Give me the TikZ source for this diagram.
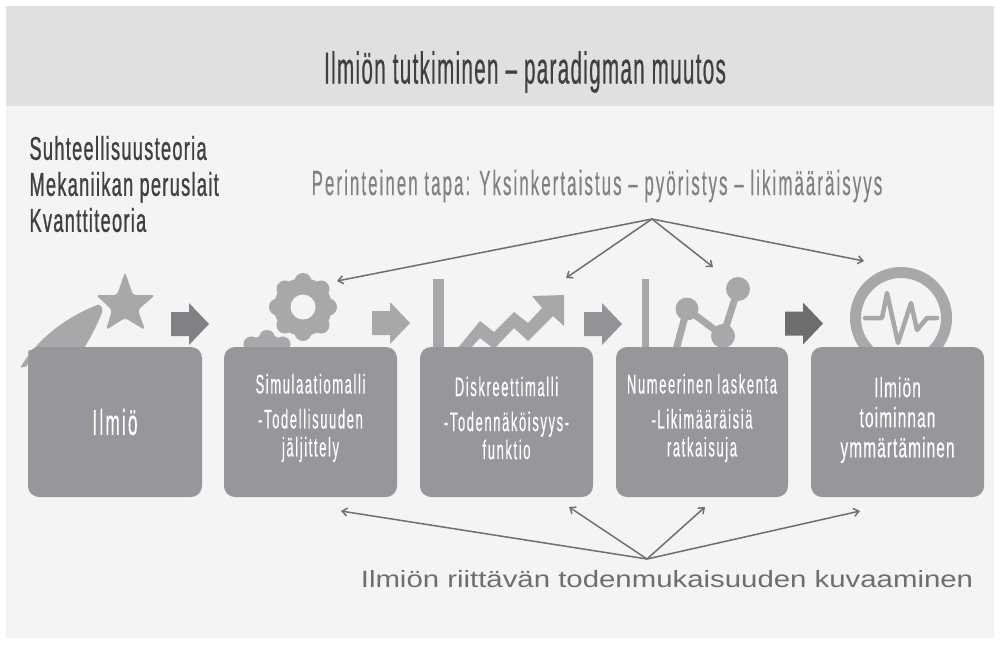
\documentclass[tikz,border=0pt]{standalone}
\usepackage{fontspec}
\setmainfont{Liberation Sans}
\newfontfamily\titlef[FakeStretch=.46,LetterSpace=3,FakeBold=.4]{Liberation Sans}
\newfontfamily\lawsf[FakeStretch=.55,LetterSpace=4,FakeBold=.8]{Liberation Sans}
\newfontfamily\condf[FakeStretch=.48,LetterSpace=6,FakeBold=.3]{Liberation Sans}
\newfontfamily\bfivef[FakeStretch=.55,LetterSpace=4,FakeBold=.3]{Liberation Sans}
\newfontfamily\widef[FakeStretch=1.25]{Liberation Sans}
\usetikzlibrary{arrows.meta}
\definecolor{panel}{gray}{0.955}
\definecolor{band}{HTML}{DFE0E2}
\definecolor{boxc}{HTML}{96979A}
\definecolor{icon}{HTML}{A7A8AA}
\definecolor{darka}{HTML}{808184}
\definecolor{lina}{HTML}{6D6E71}
\tikzset{
 x=1pt,y=-1pt,
 bx/.style={fill=boxc,rounded corners=11pt,minimum height=150pt,inner sep=0pt,text=white,align=center,font=\condf\fontsize{27}{28}\selectfont},
 txt/.style={text=white,align=center,font=\condf\fontsize{27}{28}\selectfont},
 arr/.style={draw=lina,line width=1.5pt,-{Straight Barb[length=5pt,width=8pt]}},
 ic/.style={fill=icon,draw=none},
}
\newcommand{\blockA}[3]{\fill[#3] (#1,#2-12)--(#1+18,#2-12)--(#1+18,#2-21)--(#1+38,#2)--(#1+18,#2+21)--(#1+18,#2+12)--(#1,#2+12)--cycle;}
\begin{document}
\begin{tikzpicture}
\useasboundingbox (0,0) rectangle (1000,646);
\fill[white] (0,0) rectangle (1000,646);
\fill[panel] (6,6) rectangle (994,638);
\fill[band] (6,6) rectangle (994,106);
\node[font=\titlef\fontsize{44.7}{46}\selectfont,text=black!75] (title) at (525,72) {Ilmiön tutkiminen – paradigman muutos};
\node[anchor=west,align=left,font=\lawsf\fontsize{33}{36}\selectfont,text=black!75] (laws) at (26,184) {Suhteellisuusteoria\\Mekaniikan peruslait\\Kvanttiteoria};
\node[font=\condf\fontsize{35}{36}\selectfont,text=darka] (trad) at (597,186) {Perinteinen tapa: Yksinkertaistus – pyöristys – likimääräisyys};
\node[font=\widef\fontsize{23.5}{24}\selectfont,text=lina] (desc) at (667,579) {Ilmiön riittävän todenmukaisuuden kuvaaminen};
% star and swoosh
\fill[ic,rounded corners=3pt] (125,272)--(133,295)--(155,295)--(138,310)--(145,330)--(125,318)--(106,330)--(112,310)--(96,295)--(117,295)--cycle;
\fill[ic,rounded corners=2pt] (20,368) .. controls (38,338) and (68,316) .. (100,304) -- (103,310) .. controls (97,325) and (92,335) .. (83,350) -- (28,350) -- (28,366) -- cycle;
% gears
\foreach \a in {0,45,...,315}{\fill[ic] (303,307) ++(\a:25.5) circle (8.5);}
\fill[ic] (303,307) circle (29);
\fill[panel] (303,307) circle (12.5);
\begin{scope}
\clip (200,300) rectangle (330,349);
\fill[ic] (267,360) circle (25);
\foreach \a in {0,45,...,315}{\fill[ic] (267,360) ++(\a:22) circle (8);}
\end{scope}
% chart 3
\fill[ic] (433,279) rectangle (444,349);
\fill[ic] (457,349)--(480,321)--(494,332)--(514,312)--(528,323)--(542,308)--(532,296)--(564,295)--(564,326)--(553,316)--(528,341)--(514,328)--(494,349)--(480,338)--(470,349)--cycle;
% chart 4
\fill[ic] (642,279) rectangle (649,349);
\draw[icon,line width=7pt] (676,350)--(687,309)--(723,336)--(738,289);
\fill[ic] (687,309) circle (11.5);
\fill[ic] (723,336) circle (12);
\fill[ic] (738,289) circle (12);
% gauge
\begin{scope}
\clip (830,260) rectangle (970,349);
\draw[icon,line width=11pt] (901,318) circle (45.5);
\end{scope}
\draw[icon,line width=4.5pt,line join=round,line cap=round] (865,318)--(882,318)--(887,293)--(898,343)--(911,303)--(917,330)--(927,318)--(937,318);
% boxes
\node[bx,minimum width=174pt,font=\condf\fontsize{36}{38}\selectfont] (b1) at (115,422) {Ilmiö};
\node[bx,minimum width=173pt] (b2) at (310.5,422) {};
\node[bx,minimum width=173pt] (b3) at (506.5,422) {};
\node[bx,minimum width=172pt] (b4) at (702,422) {};
\node[bx,minimum width=173pt] (b5) at (897.5,422) {};
\node[txt] (t2) at (310.5,418) {Simulaatiomalli\\[7pt]-Todellisuuden\\jäljittely};
\node[txt] (t3) at (506.5,418) {Diskreettimalli\\[7pt]-Todennäköisyys-\\funktio};
\node[txt] (t4) at (702,418) {Numeerinen laskenta\\[7pt]-Likimääräisiä\\ratkaisuja};
\node[txt,font=\bfivef\fontsize{28}{30}\selectfont] (t5) at (897.5,420) {Ilmiön\\toiminnan\\ymmärtäminen};
% block arrows
\blockA{171}{324}{darka}
\blockA{372}{323}{icon}
\blockA{584}{324}{darka!50!icon}
\blockA{785}{323.5}{darka!85!black}
% connectors
\coordinate (top) at (652,219);
\coordinate (a1) at (337,281);
\coordinate (a2) at (566,278);
\coordinate (a3) at (713,267);
\coordinate (a4) at (864,261);
\foreach \t in {a1,a2,a3,a4}{\draw[arr] (top)--(\t);}
\coordinate (bot) at (647,559);
\coordinate (u1) at (341,511);
\coordinate (u2) at (569,507);
\coordinate (u3) at (705,507);
\coordinate (u4) at (860,511);
\foreach \t in {u1,u2,u3,u4}{\draw[arr] (bot)--(\t);}
\end{tikzpicture}
\end{document}
